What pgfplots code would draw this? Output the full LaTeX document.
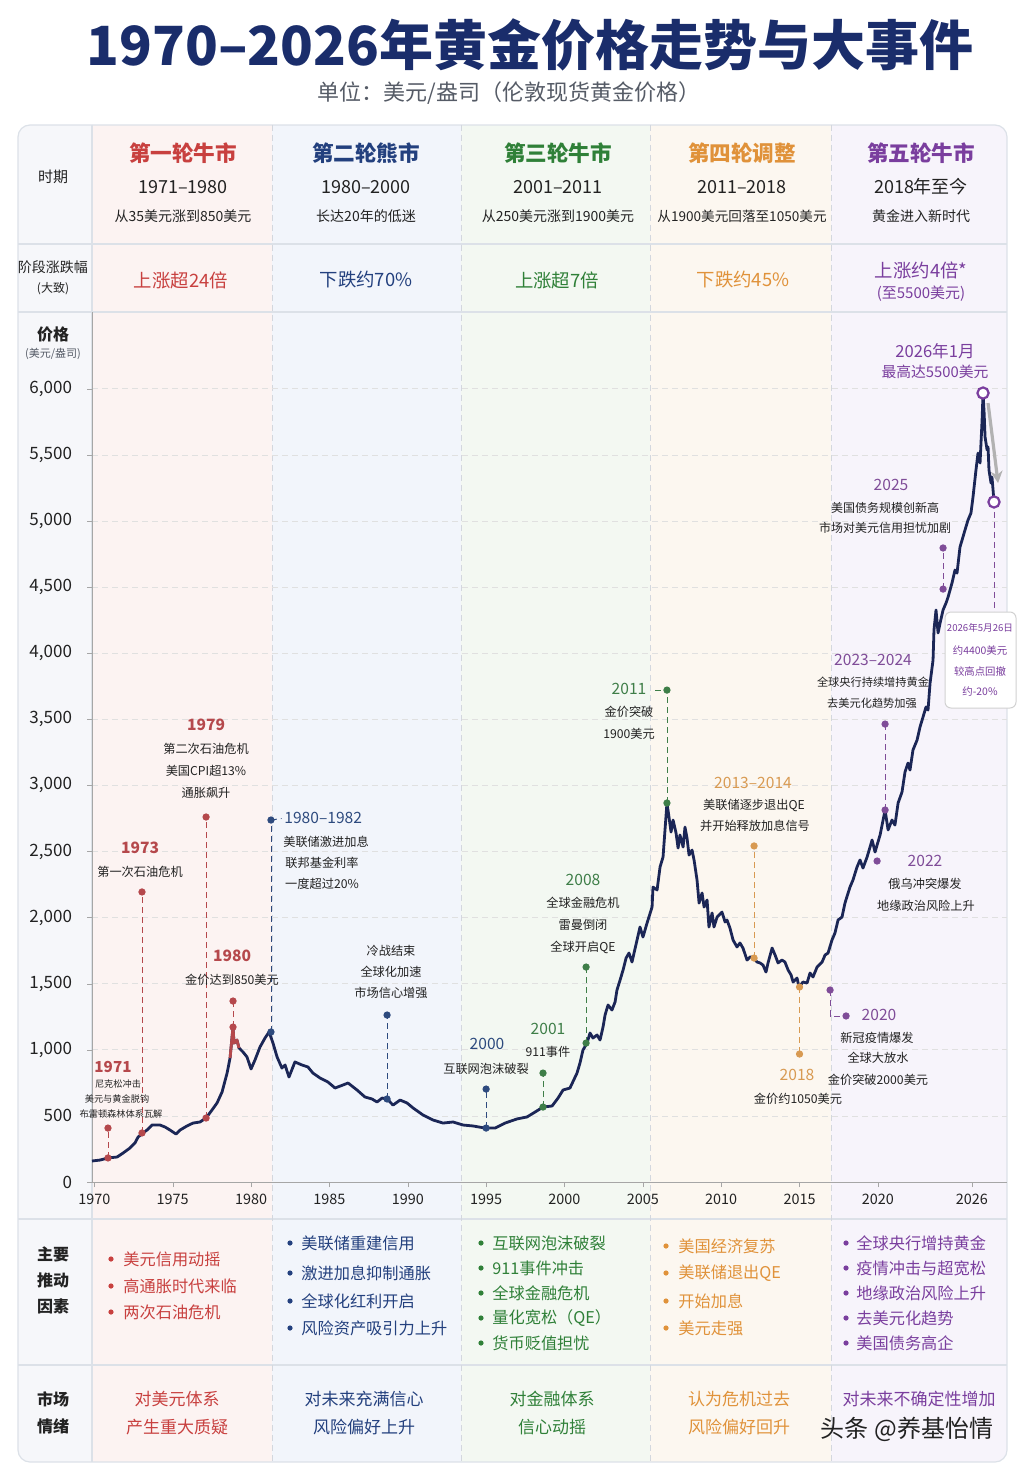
\documentclass[border=0pt]{standalone}
\usepackage{fontspec}
\setmainfont{Noto Sans CJK SC}
\usepackage{pgfplots}
\pgfplotsset{compat=1.18}
\usetikzlibrary{arrows.meta}
\definecolor{ttl}{HTML}{1A2D6B}
\definecolor{cred}{HTML}{C8403F}
\definecolor{cnavy}{HTML}{23407E}
\definecolor{cgreen}{HTML}{2F8038}
\definecolor{corange}{HTML}{E0923A}
\definecolor{cpurple}{HTML}{7A3E9E}
\definecolor{curve}{HTML}{1B2656}
\definecolor{txt}{HTML}{222222}
\definecolor{sub}{HTML}{555B66}
\definecolor{bd}{HTML}{DCE1E8}
\definecolor{f0}{HTML}{F6F7FA}
\definecolor{f1}{HTML}{FCF3F2}
\definecolor{f2}{HTML}{F2F5FB}
\definecolor{f3}{HTML}{F3F8F2}
\definecolor{f4}{HTML}{FCF7F0}
\definecolor{f5}{HTML}{F7F4FB}
\definecolor{ered}{HTML}{B5484C}
\definecolor{enavy}{HTML}{2D4A7E}
\definecolor{egreen}{HTML}{3E7E48}
\definecolor{eorange}{HTML}{D89A52}
\definecolor{epurple}{HTML}{7F4C98}
\newcommand{\fs}[1]{\fontsize{#1}{#1}\selectfont}
\newcommand{\T}[5]{\node[font=\fs{#3},text=#4,inner sep=0pt,anchor=center] at (#1,#2) {#5};}
\newcommand{\TL}[5]{\node[font=\fs{#3},text=#4,inner sep=0pt,anchor=west] at (#1,#2) {#5};}
\newcommand{\BL}[5]{\fill[#4] (#1,#3) circle (2.6);\node[font=\fs{8.1},text=#4,inner sep=0pt,anchor=west] at (#2,#3) {#5};}
\newcommand{\evt}[4]{%
\addplot[#1, densely dashed, line width=0.45pt, forget plot] coordinates {(#2,#3) (#2,#4)};
\addplot[#1, only marks, mark=*, mark size=1.6pt, forget plot] coordinates {(#2,#3) (#2,#4)};}
\begin{document}
\begin{tikzpicture}
\begin{scope}[x=0.5pt,y=-0.5pt]
\useasboundingbox (0,0) rectangle (1024,1465);
\fill[white] (0,0) rectangle (1024,1465);
\begin{scope}
\clip[rounded corners=6pt] (18,125) rectangle (1007,1462);
\fill[f0] (18,125) rectangle (92,1462);
\fill[f1] (92,125) rectangle (272,1462);
\fill[f2] (272,125) rectangle (461,1462);
\fill[f3] (461,125) rectangle (650,1462);
\fill[f4] (650,125) rectangle (831,1462);
\fill[f5] (831,125) rectangle (1007,1462);
\end{scope}
\draw[bd, rounded corners=6pt, line width=0.6pt] (18,125) rectangle (1007,1462);
\foreach \yy in {244,312,1219,1365} {\draw[bd,line width=0.6pt] (18,\yy) -- (1007,\yy);}
\draw[bd,line width=0.6pt] (92,125) -- (92,1462);
\foreach \xx in {272,461,650,831} {\draw[bd!90!gray,densely dashed,line width=0.5pt] (\xx,125) -- (\xx,1462);}
\end{scope}

\begin{axis}[
  at={(46pt,-591pt)}, anchor=south west,
  scale only axis, width=457.5pt, height=435pt,
  xmin=1969.85, xmax=2028.24, ymin=0, ymax=6581,
  axis lines*=left,
  axis line style={draw=black!35, line width=0.5pt},
  xtick={1970,1975,1980,1985,1990,1995,2000,2005,2010,2015,2020,2026},
  xticklabels={1970,1975,1980,1985,1990,1995,2000,2005,2010,2015,2020,2026},
  ytick={0,500,...,6000},
  /pgf/number format/1000 sep={,},
  /pgf/number format/assume math mode=true,
  ymajorgrids, grid style={densely dashed, color=black!12, line width=0.4pt},
  tick align=outside, major tick length=2.5pt, tick style={black!35},
  yticklabel style={font=\fs{8.5}, text=txt, xshift=-4pt},
  xticklabel style={font=\fs{7.2}, text=txt},
  clip=false,
]
\addplot[color=curve, line width=1.4pt, line join=round] coordinates {
(1969.85,159) (1970.36,166) (1970.87,182) (1971.45,189) (1971.83,219) (1972.27,257) (1972.59,295) (1972.79,340) (1973.10,371) (1973.36,393) (1973.68,431) (1974.19,431) (1974.51,416) (1974.83,393) (1975.21,363) (1975.47,393) (1975.91,424) (1976.30,446) (1976.74,454) (1977.13,484) (1977.51,545) (1977.83,598) (1978.15,681) (1978.47,824) (1978.66,938) (1978.85,1172) (1978.91,1051) (1979.10,1074) (1979.23,1014) (1979.49,983) (1979.74,946) (1980.00,855) (1980.25,923) (1980.57,1021) (1980.89,1089) (1981.15,1135) (1981.40,1051) (1981.66,946) (1981.97,862) (1982.17,885) (1982.42,794) (1982.80,908) (1983.25,885) (1983.63,870) (1983.95,824) (1984.40,787) (1984.91,756) (1985.36,711) (1985.87,734) (1986.19,749) (1986.76,696) (1987.27,643) (1987.72,628) (1988.04,605) (1988.36,635) (1988.68,628) (1989.06,582) (1989.51,620) (1989.95,598) (1990.34,560) (1990.97,507) (1991.61,469) (1992.25,446) (1992.89,454) (1993.53,431) (1994.16,424) (1994.93,408) (1995.57,408) (1996.21,446) (1996.97,477) (1997.61,492) (1998.12,529) (1998.63,567) (1999.21,575) (1999.59,635) (1999.91,696) (2000.35,711) (2000.80,824)
(2000.99,900) (2001.18,998) (2001.44,1051) (2001.63,1127) (2001.82,1089) (2002.08,1112) (2002.27,1074) (2002.46,1172) (2002.59,1263) (2002.78,1339) (2003.03,1301) (2003.23,1362) (2003.35,1452) (2003.55,1528) (2003.74,1604) (2003.93,1694) (2004.12,1732) (2004.31,1664) (2004.44,1732) (2004.63,1830) (2004.82,1929) (2005.01,1853) (2005.27,1959) (2005.59,2080) (2005.65,2231) (2005.91,2209) (2006.10,2383) (2006.29,2458) (2006.54,2867) (2006.67,2761) (2006.80,2647) (2006.93,2738) (2007.12,2640) (2007.25,2526) (2007.37,2625) (2007.57,2534) (2007.69,2685) (2007.82,2602) (2007.95,2473) (2008.14,2511) (2008.27,2436) (2008.46,2284) (2008.59,2110) (2008.78,2186) (2008.91,2080) (2009.10,2133) (2009.22,1929) (2009.42,2035) (2009.54,1929) (2009.74,2004) (2010.05,2042) (2010.25,1967) (2010.37,1982) (2010.56,1921) (2010.76,1830) (2011.01,1778) (2011.20,1808) (2011.39,1770) (2011.65,1679) (2011.84,1702) (2012.03,1702) (2012.29,1664) (2012.48,1657) (2012.67,1641) (2012.86,1588) (2012.99,1657) (2013.25,1770) (2013.44,1717) (2013.63,1657) (2013.88,1679) (2014.07,1664) (2014.27,1604) (2014.46,1566) (2014.59,1513) (2014.84,1543) (2014.97,1475) (2015.22,1513) (2015.48,1505) (2015.67,1581) (2015.86,1551) (2016.12,1626) (2016.44,1664) (2016.63,1717) (2016.82,1732) (2017.07,1830) (2017.26,1883) (2017.46,1982) (2017.71,2004) (2017.90,2110) (2018.10,2186) (2018.22,2231) (2018.41,2284) (2018.67,2383) (2018.86,2436) (2019.05,2375) (2019.31,2458) (2019.50,2534) (2019.63,2587) (2019.82,2496) (2019.95,2549) (2020.14,2625) (2020.46,2814) (2020.65,2663) (2020.90,2738) (2021.09,2700) (2021.29,2867) (2021.54,2950) (2021.73,3101) (2021.92,3169) (2022.05,3116) (2022.24,3268) (2022.50,3343) (2022.69,3442) (2022.88,3517) (2023.07,3593) (2023.20,3570) (2023.33,3774) (2023.52,3948) (2023.58,4175) (2023.71,4327) (2023.84,4153) (2023.97,4228) (2024.16,4327) (2024.35,4380) (2024.48,4425) (2024.73,4531) (2024.92,4629) (2025.05,4606) (2025.24,4803) (2025.43,4879) (2025.56,4932) (2025.75,5007) (2025.94,5060) (2026.07,5181) (2026.26,5386) (2026.39,5514) (2026.52,5439) (2026.65,5764) (2026.71,5968) (2026.78,5817) (2026.84,5635) (2026.97,5537) (2027.03,5560) (2027.09,5386) (2027.22,5287) (2027.28,5333) (2027.35,5234) (2027.41,5144)};
\addplot[color=ered, line width=1.4pt, line join=round, forget plot] coordinates {(1978.66,938) (1978.85,1172) (1978.91,1051) (1979.10,1074) (1979.23,1014)};
% events
\evt{ered}{1970.87}{182}{408}
\evt{ered}{1973.04}{371}{2194}
\evt{ered}{1977.13}{484}{2761}
\evt{ered}{1978.85}{1172}{1369}
\evt{enavy}{1981.27}{1135}{2738}
\evt{enavy}{1988.68}{628}{1263}
\evt{enavy}{1995.00}{408}{703}
\evt{egreen}{1998.63}{567}{824}
\evt{egreen}{2001.38}{1051}{1626}
\evt{egreen}{2006.54}{2867}{3721}
\evt{eorange}{2012.10}{1694}{2542}
\evt{eorange}{2015.00}{1475}{968}
\evt{epurple}{2020.46}{2814}{3464}
\evt{epurple}{2024.16}{4485}{4796}
\addplot[enavy, densely dashed, line width=0.45pt, forget plot] coordinates {(1981.27,2738) (1981.95,2750)};
\addplot[egreen, densely dashed, line width=0.45pt, forget plot] coordinates {(2005.80,3721) (2006.54,3721)};
\addplot[epurple, densely dashed, line width=0.45pt, forget plot] coordinates {(2016.95,1452) (2016.95,1256) (2017.97,1256)};
\addplot[epurple, only marks, mark=*, mark size=1.6pt, forget plot] coordinates {(2016.95,1452) (2017.97,1256) (2019.95,2428)};
\addplot[epurple, densely dashed, line width=0.45pt, forget plot] coordinates {(2027.41,5144) (2027.41,4311)};
\draw[-{Stealth[length=6pt,width=6pt]}, black!30, line width=1.6pt] (axis cs:2027.03,5892) -- (axis cs:2027.67,5287);
\addplot[cpurple, only marks, mark=*, mark size=2.8pt, mark options={fill=white, draw=cpurple, line width=1.1pt}, forget plot] coordinates {(2026.71,5968) (2027.41,5144)};
\end{axis}

\begin{scope}[x=0.5pt,y=-0.5pt]
% title
\T{530}{45}{27}{ttl}{\bfseries 1970–2026年黄金价格走势与大事件}
\T{509}{93}{11}{sub}{单位：美元/盎司（伦敦现货黄金价格）}
% header
\T{53}{177}{7.5}{txt}{时期}
\T{183}{153}{10.8}{cred}{\bfseries 第一轮牛市}
\T{366}{153}{10.8}{cnavy}{\bfseries 第二轮熊市}
\T{558}{153}{10.8}{cgreen}{\bfseries 第三轮牛市}
\T{742}{153}{10.8}{corange}{\bfseries 第四轮调整}
\T{921}{153}{10.8}{cpurple}{\bfseries 第五轮牛市}
\T{183}{187}{9}{txt}{1971–1980}
\T{366}{187}{9}{txt}{1980–2000}
\T{558}{187}{9}{txt}{2001–2011}
\T{742}{187}{9}{txt}{2011–2018}
\T{921}{187}{9}{txt}{2018年至今}
\T{183}{216}{7}{txt}{从35美元涨到850美元}
\T{366}{216}{7}{txt}{长达20年的低迷}
\T{558}{216}{7}{txt}{从250美元涨到1900美元}
\T{742}{216}{6.8}{txt}{从1900美元回落至1050美元}
\T{921}{216}{7}{txt}{黄金进入新时代}
\T{53}{267}{7}{txt}{阶段涨跌幅}
\T{53}{289}{6}{txt}{(大致)}
\T{181}{280}{9.2}{cred}{上涨超24倍}
\T{366}{280}{9.2}{cnavy}{下跌约70\%}
\T{557}{280}{9.2}{cgreen}{上涨超7倍}
\T{743}{280}{9.2}{corange}{下跌约45\%}
\T{921}{270}{9.2}{cpurple}{上涨约4倍*}
\T{921}{294}{7.5}{cpurple}{(至5500美元)}
\T{53}{334}{8}{txt}{\bfseries 价格}
\T{53}{354}{5.5}{sub}{(美元/盎司)}
% events
\T{113}{1067}{7.6}{ered}{\bfseries 1971}
\T{118}{1084}{4.6}{txt}{尼克松冲击}
\T{117}{1099}{4.6}{txt}{美元与黄金脱钩}
\T{121}{1114}{4.6}{txt}{布雷顿森林体系瓦解}
\T{140}{848}{7.8}{ered}{\bfseries 1973}
\T{140}{872}{6.1}{txt}{第一次石油危机}
\T{206}{725}{7.8}{ered}{\bfseries 1979}
\T{206}{749}{6.1}{txt}{第二次石油危机}
\T{206}{771}{6.1}{txt}{美国CPI超13\%}
\T{206}{793}{6.1}{txt}{通胀飙升}
\T{232}{956}{7.8}{ered}{\bfseries 1980}
\T{232}{980}{6.1}{txt}{金价达到850美元}
\TL{284}{818}{7.8}{enavy}{1980–1982}
\T{326}{842}{6.1}{txt}{美联储激进加息}
\T{322}{863}{6.1}{txt}{联邦基金利率}
\T{322}{884}{6.1}{txt}{一度超过20\%}
\T{391}{951}{6.1}{txt}{冷战结束}
\T{391}{972}{6.1}{txt}{全球化加速}
\T{391}{993}{6.1}{txt}{市场信心增强}
\T{487}{1044}{7.8}{enavy}{2000}
\T{486}{1069}{6.1}{txt}{互联网泡沫破裂}
\T{548}{1029}{7.8}{egreen}{2001}
\T{548}{1052}{6.1}{txt}{911事件}
\T{583}{880}{7.8}{egreen}{2008}
\T{583}{903}{6.1}{txt}{全球金融危机}
\T{583}{925}{6.1}{txt}{雷曼倒闭}
\T{583}{947}{6.1}{txt}{全球开启QE}
\T{629}{689}{7.8}{egreen}{2011}
\T{629}{712}{6.1}{txt}{金价突破}
\T{629}{734}{6.1}{txt}{1900美元}
\T{753}{783}{7.8}{eorange}{2013–2014}
\T{754}{805}{6.1}{txt}{美联储逐步退出QE}
\T{755}{826}{6.1}{txt}{并开始释放加息信号}
\T{797}{1075}{7.8}{eorange}{2018}
\T{798}{1099}{6.1}{txt}{金价约1050美元}
\T{879}{1015}{7.8}{epurple}{2020}
\T{877}{1038}{6.1}{txt}{新冠疫情爆发}
\T{878}{1058}{6.1}{txt}{全球大放水}
\T{878}{1080}{6.1}{txt}{金价突破2000美元}
\T{925}{861}{7.8}{epurple}{2022}
\T{925}{884}{6.1}{txt}{俄乌冲突爆发}
\T{926}{906}{6.1}{txt}{地缘政治风险上升}
\T{873}{660}{7.8}{epurple}{2023–2024}
\T{873}{682}{5.6}{txt}{全球央行持续增持黄金}
\T{872}{703}{5.6}{txt}{去美元化趋势加强}
\T{891}{485}{7.8}{epurple}{2025}
\T{885}{508}{6}{txt}{美国债务规模创新高}
\T{885}{528}{6}{txt}{市场对美元信用担忧加剧}
\T{935}{351}{8.3}{cpurple}{2026年1月}
\T{935}{372}{7.4}{cpurple}{最高达5500美元}
\draw[black!18, fill=white, rounded corners=3pt, line width=0.5pt] (945,612) rectangle (1016,708);
\T{980}{628}{4.8}{cpurple}{2026年5月26日}
\T{980}{651}{5.2}{cpurple}{约4400美元}
\T{980}{672}{5.2}{cpurple}{较高点回撤}
\T{980}{692}{5.2}{cpurple}{约-20\%}
% bottom rows
\T{53}{1254}{8}{txt}{\bfseries 主要}
\T{53}{1280}{8}{txt}{\bfseries 推动}
\T{53}{1306}{8}{txt}{\bfseries 因素}
\BL{111}{123}{1259}{cred}{美元信用动摇}
\BL{111}{123}{1286}{cred}{高通胀时代来临}
\BL{111}{123}{1312}{cred}{两次石油危机}
\BL{290}{301}{1243}{cnavy}{美联储重建信用}
\BL{290}{301}{1273}{cnavy}{激进加息抑制通胀}
\BL{290}{301}{1301}{cnavy}{全球化红利开启}
\BL{290}{301}{1328}{cnavy}{风险资产吸引力上升}
\BL{481}{492}{1243}{cgreen}{互联网泡沫破裂}
\BL{481}{492}{1268}{cgreen}{911事件冲击}
\BL{481}{492}{1293}{cgreen}{全球金融危机}
\BL{481}{492}{1318}{cgreen}{量化宽松（QE）}
\BL{481}{492}{1343}{cgreen}{货币贬值担忧}
\BL{666}{678}{1246}{corange}{美国经济复苏}
\BL{666}{678}{1273}{corange}{美联储退出QE}
\BL{666}{678}{1301}{corange}{开始加息}
\BL{666}{678}{1328}{corange}{美元走强}
\BL{846}{856}{1243}{cpurple}{全球央行增持黄金}
\BL{846}{856}{1268}{cpurple}{疫情冲击与超宽松}
\BL{846}{856}{1293}{cpurple}{地缘政治风险上升}
\BL{846}{856}{1318}{cpurple}{去美元化趋势}
\BL{846}{856}{1343}{cpurple}{美国债务高企}
\T{53}{1399}{8}{txt}{\bfseries 市场}
\T{53}{1426}{8}{txt}{\bfseries 情绪}
\T{177}{1399}{8.5}{cred}{对美元体系}
\T{177}{1427}{8.5}{cred}{产生重大质疑}
\T{364}{1399}{8.5}{cnavy}{对未来充满信心}
\T{364}{1427}{8.5}{cnavy}{风险偏好上升}
\T{552}{1399}{8.5}{cgreen}{对金融体系}
\T{552}{1427}{8.5}{cgreen}{信心动摇}
\T{739}{1399}{8.5}{corange}{认为危机过去}
\T{739}{1427}{8.5}{corange}{风险偏好回升}
\T{919}{1399}{8.5}{cpurple}{对未来不确定性增加}
\T{907}{1429}{12}{txt}{头条 @养基怡情}
\end{scope}
\end{tikzpicture}
\end{document}
